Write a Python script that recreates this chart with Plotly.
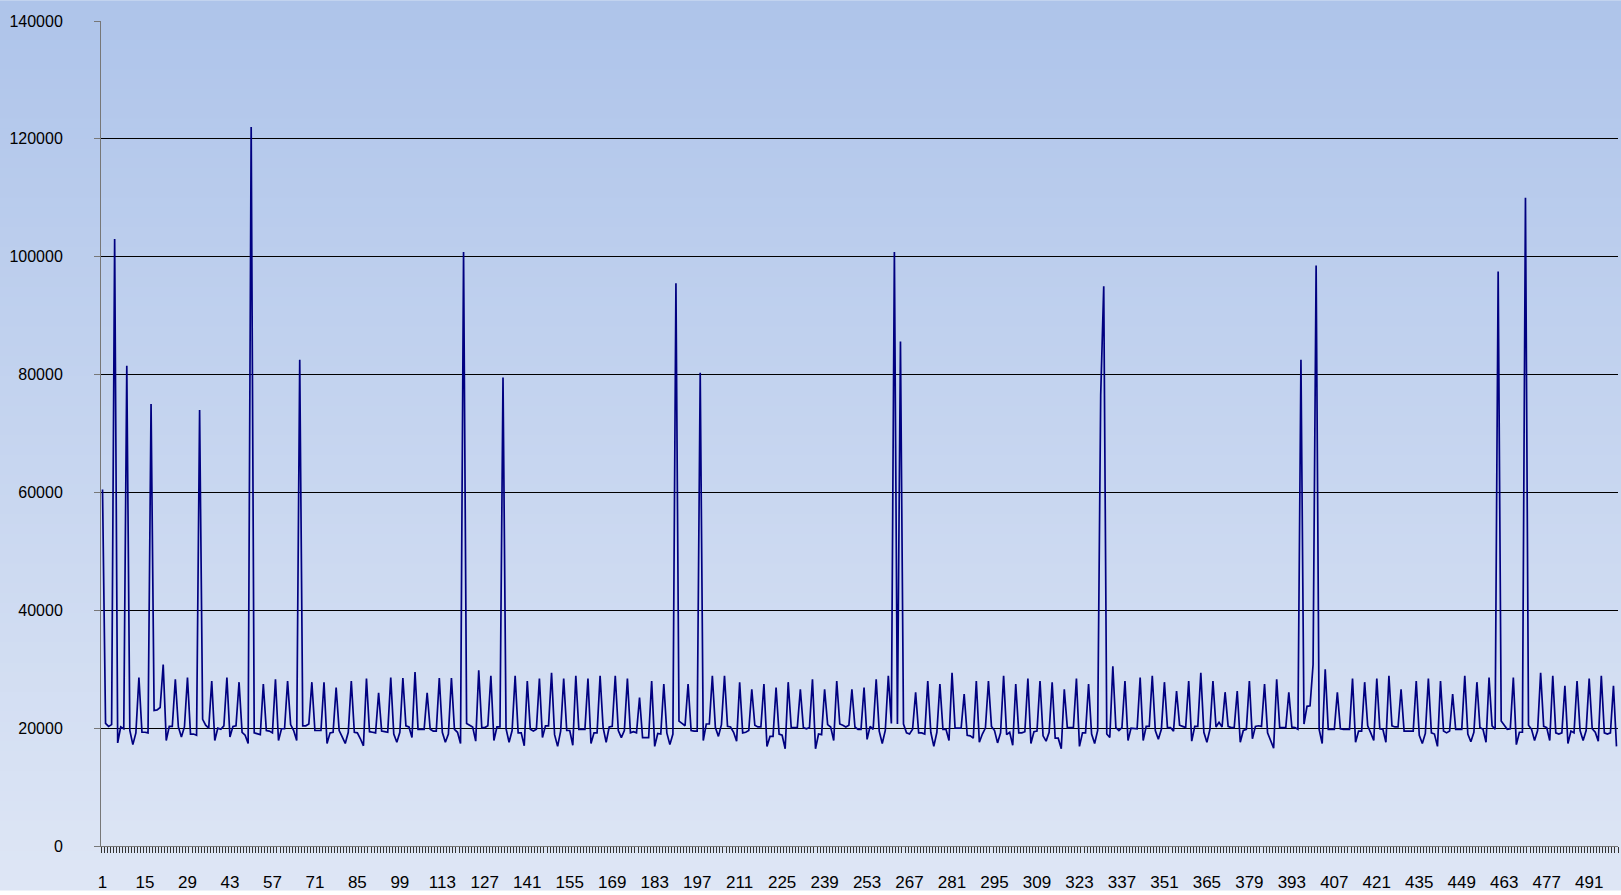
import plotly.graph_objects as go

# ---- data ----
values = [
    60500, 20800, 20300, 20600, 103000, 17500, 20200, 19900, 81500, 19600, 17200, 19200, 28600, 19300, 19300, 19200, 75000, 23000, 23100, 23500,
    30800, 17900, 20300, 20300, 28300, 20200, 18500, 20200, 28600, 19000, 19000, 18800, 74000, 21500, 20500, 20000, 28000, 17900, 20000, 19800,
    20400, 28600, 18500, 20300, 20400, 27800, 19300, 18800, 17400, 122000, 19200, 19000, 18900, 27500, 19600, 19500, 19200, 28300, 17900, 19900,
    19900, 28000, 20600, 19600, 17900, 82500, 20400, 20400, 20700, 27800, 19600, 19600, 19600, 27800, 17400, 19200, 19300, 26900, 19600, 18500,
    17400, 19300, 28000, 19300, 19200, 18200, 17000, 28400, 19400, 19300, 19200, 26000, 19500, 19400, 19300, 28600, 19000, 17600, 19300, 28500,
    20400, 20200, 18400, 29500, 19800, 19800, 19800, 26000, 19800, 19500, 19500, 28500, 19300, 17600, 19000, 28500, 19800, 19300, 17400, 100800,
    20800, 20500, 20200, 17800, 29800, 20100, 20100, 20400, 28900, 17900, 20200, 20200, 79500, 19900, 17600, 19600, 28900, 19200, 19200, 17000,
    28000, 19800, 19500, 19800, 28400, 18400, 20400, 20400, 29400, 18900, 16900, 19500, 28400, 19600, 19600, 17100, 28900, 19800, 19800, 19800,
    28400, 17400, 19200, 19200, 28900, 20100, 17600, 20200, 20300, 28900, 19600, 18400, 19600, 28400, 19200, 19400, 19200, 25200, 18400, 18400,
    18400, 28000, 16900, 19100, 19000, 27500, 19200, 17200, 19000, 95500, 21200, 20800, 20400, 27500, 19600, 19500, 19500, 80300, 17900, 20700,
    20700, 28900, 20100, 18600, 20600, 28900, 20300, 20200, 19300, 17800, 27800, 19200, 19300, 19600, 26600, 20500, 20200, 20200, 27500, 16900,
    18600, 18600, 26900, 19000, 18800, 16500, 27800, 20100, 20100, 20100, 26600, 20100, 19900, 20100, 28300, 16500, 19000, 18900, 26600, 20600,
    20200, 17900, 28000, 20700, 20500, 20200, 20500, 26600, 20200, 19800, 19800, 26900, 18100, 20300, 19800, 28300, 19500, 17400, 19600, 28900,
    20800, 100800, 20700, 85600, 20700, 19200, 19000, 19800, 26100, 19200, 19200, 19000, 28000, 19300, 16900, 19300, 27500, 19800, 19800, 17900,
    29400, 20000, 20000, 20000, 25800, 18800, 18700, 18300, 28000, 17600, 19000, 20000, 28000, 20300, 19600, 17500, 19200, 28900, 18900, 19300,
    17100, 27500, 19200, 19200, 19400, 28400, 17400, 19400, 19500, 28000, 18700, 17800, 19300, 27800, 18300, 18300, 16500, 26600, 20100, 20100,
    20100, 28400, 16900, 19200, 19200, 27500, 19000, 17400, 19600, 76500, 95000, 19000, 18400, 30500, 20100, 19600, 20100, 28000, 17900, 20000,
    20000, 19900, 28600, 17900, 20300, 20300, 28900, 19600, 18100, 19800, 27800, 20100, 20100, 19500, 26300, 20500, 20300, 20100, 28000, 17800,
    20300, 20300, 29400, 19300, 17600, 19800, 28000, 20200, 21000, 20200, 26100, 20300, 20100, 20100, 26300, 17600, 19600, 19800, 28000, 18200,
    20300, 20400, 20300, 27500, 19200, 18000, 16600, 28300, 20100, 20100, 20100, 26100, 20200, 20100, 19800, 82500, 20700, 23700, 23800, 30800,
    98500, 19800, 17400, 30000, 19800, 19800, 19800, 26100, 19900, 19800, 19800, 19800, 28400, 17600, 19500, 19500, 27800, 20400, 19200, 17900,
    28400, 19900, 19800, 17600, 28900, 20400, 20200, 20200, 26600, 19500, 19500, 19500, 19500, 28000, 18800, 17400, 19100, 28400, 19200, 19000,
    16900, 28000, 19500, 19200, 19500, 25800, 19800, 19800, 19800, 28900, 19000, 17700, 19300, 27800, 20100, 19800, 17600, 28600, 20400, 19800,
    97500, 21200, 20500, 19800, 19900, 28600, 17200, 19300, 19300, 110000, 20500, 19800, 17900, 19600, 29400, 20300, 20100, 17900, 28900, 19200,
    19000, 19200, 27200, 17400, 19500, 19200, 28000, 19600, 17900, 19600, 28400, 19900, 19300, 17800, 28900, 19200, 19000, 19200, 27200, 16900,
]
categories = list(range(1, len(values) + 1))
x_tick_values = [1, 15, 29, 43, 57, 71, 85, 99, 113, 127, 141, 155, 169, 183, 197, 211, 225, 239,
                 253, 267, 281, 295, 309, 323, 337, 351, 365, 379, 393, 407, 421, 435, 449, 463, 477, 491]
x_tick_labels = [str(v) for v in x_tick_values]
y_tick_values = [0, 20000, 40000, 60000, 80000, 100000, 120000, 140000]
y_tick_labels = ["0", "20000", "40000", "60000", "80000", "100000", "120000", "140000"]

# ---- figure ----
W, H = 1621, 895
ML, MR, MT, MB = 101, 3, 21, 44

fig = go.Figure()
fig.add_trace(go.Scatter(
    x=categories, y=values, mode="lines",
    line=dict(color="#000080", width=1.7),
    hoverinfo="x+y", showlegend=False,
))

# vertical gradient background across the whole image
top = (174, 196, 234)
bot = (222, 230, 245)
n = 90
plot_h = H - MT - MB
shapes = []
for k in range(n):
    p0 = k / n * H
    p1 = (k + 1) / n * H + 0.8
    t = (k + 0.5) / n
    c = tuple(round(top[j] + (bot[j] - top[j]) * t) for j in range(3))
    y_top = 1 + (MT - p0) / plot_h
    y_bot = 1 + (MT - p1) / plot_h
    shapes.append(dict(type="rect", xref="paper", yref="paper",
                       x0=-0.2, x1=1.2, y0=y_bot, y1=y_top,
                       fillcolor="rgb(%d,%d,%d)" % c, line=dict(width=0),
                       layer="below"))

fig.update_layout(
    width=W, height=H,
    margin=dict(l=ML, r=MR, t=MT, b=MB),
    paper_bgcolor="rgba(0,0,0,0)",
    plot_bgcolor="rgba(0,0,0,0)",
    shapes=shapes,
    font=dict(family="Liberation Sans, Arial, sans-serif", size=16, color="#000000"),
    xaxis=dict(
        range=[0.5, len(values) + 0.5],
        tickmode="array", tickvals=x_tick_values, ticktext=x_tick_labels,
        ticks="", showgrid=False, zeroline=False,
        showline=True, linecolor="#777777", linewidth=1,
        tickfont=dict(size=17),
        ticklabelstandoff=21,
        minor=dict(tickmode="linear", tick0=0.5, dtick=1, ticks="outside",
                   ticklen=6, tickcolor="#333333", tickwidth=1, showgrid=False),
    ),
    yaxis=dict(
        range=[0, 140000],
        tickmode="array", tickvals=y_tick_values, ticktext=y_tick_labels,
        ticks="outside", ticklen=6, tickcolor="#777777",
        showgrid=True, gridcolor="#000000", gridwidth=1,
        zeroline=False, showline=True, linecolor="#777777", linewidth=1,
        tickfont=dict(size=16),
        ticklabelstandoff=28,
    ),
)

fig.write_html("out.html", config={"displayModeBar": False},
               post_script="document.body.style.margin='0';")
